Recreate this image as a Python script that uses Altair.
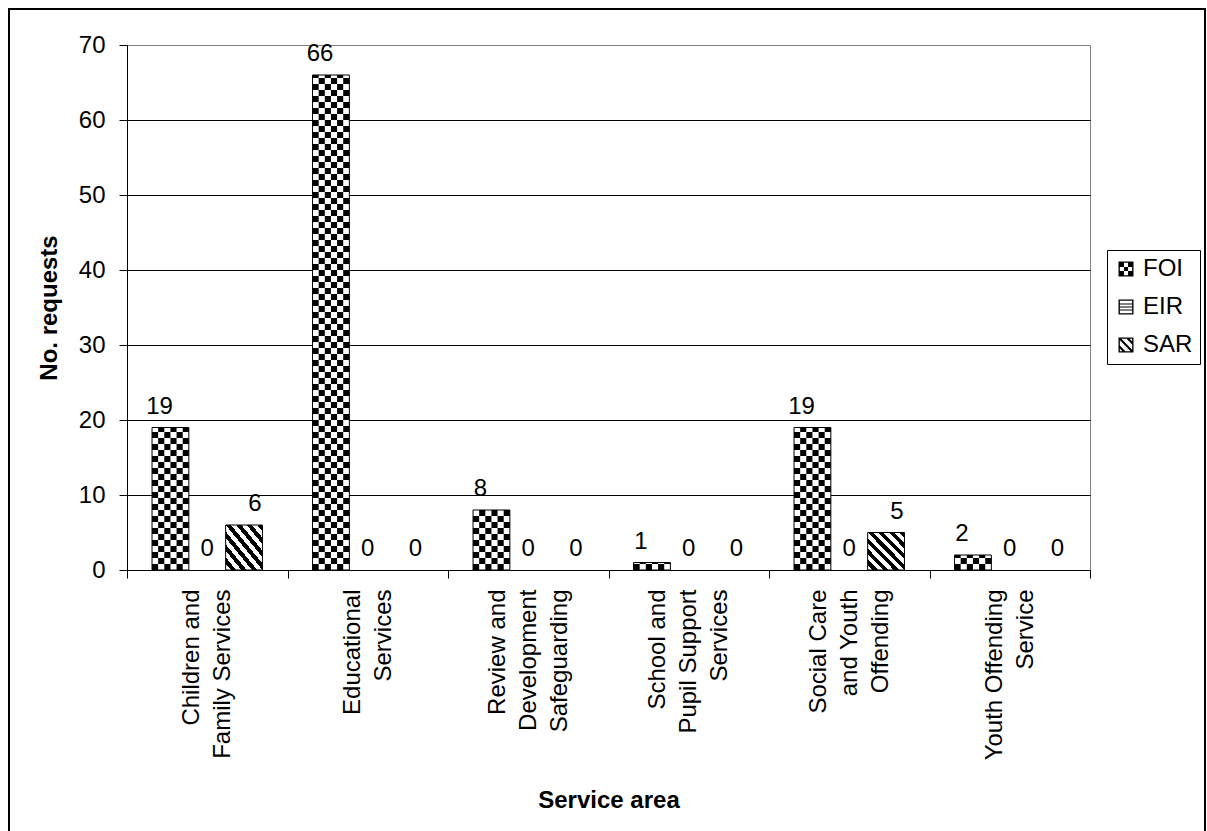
import math
import altair as alt
import pandas as pd

# ---------------- data ----------------
categories = [
    "Children and\nFamily Services",
    "Educational\nServices",
    "Review and\nDevelopment\nSafeguarding",
    "School and\nPupil Support\nServices",
    "Social Care\nand Youth\nOffending",
    "Youth Offending\nService",
]
series = ["FOI", "EIR", "SAR"]
foi_values = [19, 66, 8, 1, 19, 2]
eir_values = [0, 0, 0, 0, 0, 0]
sar_values = [6, 0, 0, 0, 5, 0]
y_tick_values = [0, 10, 20, 30, 40, 50, 60, 70]
y_title = "No. requests"
x_title = "Service area"

FONT = "Arial, Liberation Sans, sans-serif"

rows = []
for cat, f, e, s in zip(categories, foi_values, eir_values, sar_values):
    for ser, v in zip(series, (f, e, s)):
        rows.append({"category": cat, "series": ser, "value": v})
df = pd.DataFrame(rows)

# checkerboard cells for the FOI pattern, derived from the FOI values
CHECK_ROW = 0.8   # data units per checker row
CHECK_COLS = 6
cells = []
for cat, v in zip(categories, foi_values):
    k = 0
    while round(k * CHECK_ROW, 6) < v:
        lo = round(k * CHECK_ROW, 6)
        hi = min(round((k + 1) * CHECK_ROW, 6), v)
        for c in range(CHECK_COLS):
            if (k + c) % 2 == 0:
                cells.append({"category": cat, "sub": f"FOI{c}", "lo": lo, "hi": hi})
        k += 1
cells_df = pd.DataFrame(cells)

GAP = 0.68  # outer padding of the bar group (in bar widths)
sub_pad_total = GAP * CHECK_COLS
n_pad = int(math.floor(sub_pad_total))
sub_pad_rest = sub_pad_total - n_pad
sub_domain = ([f"padL{i}" for i in range(n_pad)]
              + [f"{s}{c}" for s in series for c in range(CHECK_COLS)]
              + [f"padR{i}" for i in range(n_pad)])

# diagonal stripe gradient for SAR
N_STRIPES = 7
stops = []
for i in range(N_STRIPES):
    a = i / N_STRIPES
    b = (i + 0.5) / N_STRIPES
    c = (i + 1) / N_STRIPES
    stops += [
        {"offset": a, "color": "white"},
        {"offset": b, "color": "white"},
        {"offset": b, "color": "black"},
        {"offset": c, "color": "black"},
    ]
sar_gradient = {"gradient": "linear", "x1": 0, "y1": 1, "x2": 1, "y2": 0, "stops": stops}

# ---------------- legend symbol paths ----------------
def sq(x0, y0, x1, y1, cw=True):
    if cw:
        return f"M{x0:.3f},{y0:.3f}H{x1:.3f}V{y1:.3f}H{x0:.3f}Z"
    return f"M{x0:.3f},{y0:.3f}V{y1:.3f}H{x1:.3f}V{y0:.3f}Z"

INNER = 0.82
frame_path = sq(-1, -1, 1, 1) + sq(-INNER, -INNER, INNER, INNER, cw=False)

foi_path = frame_path
step = 2 * INNER / 3
for r in range(3):
    for c in range(3):
        if (r + c) % 2 == 0:
            foi_path += sq(-INNER + c * step, -INNER + r * step,
                           -INNER + (c + 1) * step, -INNER + (r + 1) * step)

eir_path = frame_path
for yc in (-0.4, 0.0, 0.4):
    eir_path += sq(-INNER, yc - 0.08, INNER, yc + 0.08)


def clip_square(poly, lo, hi):
    def clip(p, inside, inter):
        out = []
        for i in range(len(p)):
            cur, prev = p[i], p[i - 1]
            if inside(cur):
                if not inside(prev):
                    out.append(inter(prev, cur))
                out.append(cur)
            elif inside(prev):
                out.append(inter(prev, cur))
        return out

    def ix(a, b, xv):
        t = (xv - a[0]) / (b[0] - a[0])
        return (xv, a[1] + t * (b[1] - a[1]))

    def iy(a, b, yv):
        t = (yv - a[1]) / (b[1] - a[1])
        return (a[0] + t * (b[0] - a[0]), yv)

    p = poly
    p = clip(p, lambda q: q[0] >= lo, lambda a, b: ix(a, b, lo))
    p = clip(p, lambda q: q[0] <= hi, lambda a, b: ix(a, b, hi))
    p = clip(p, lambda q: q[1] >= lo, lambda a, b: iy(a, b, lo))
    p = clip(p, lambda q: q[1] <= hi, lambda a, b: iy(a, b, hi))
    return p


def poly_path(p):
    area = sum(p[i][0] * p[(i + 1) % len(p)][1] - p[(i + 1) % len(p)][0] * p[i][1]
               for i in range(len(p)))
    if area < 0:
        p = p[::-1]
    return "M" + "L".join(f"{x:.3f},{y:.3f}" for x, y in p) + "Z"


sar_path = frame_path
for cc in (-1.1, 0.0, 1.1):
    c1, c2 = cc - 0.2, cc + 0.2
    band = [(c1 - 3, -3), (c1 + 3, 3), (c2 + 3, 3), (c2 - 3, -3)]
    clipped = clip_square(band, -INNER, INNER)
    if len(clipped) >= 3:
        sar_path += poly_path(clipped)

# ---------------- encodings ----------------
LINE_H = 31
x_enc = alt.X(
    "category:N",
    sort=categories,
    scale=alt.Scale(paddingInner=0, paddingOuter=0),
    axis=alt.Axis(
        title=x_title,
        labelExpr="split(datum.label, '\\n')",
        labelAngle=270,
        labelAlign="right",
        labelBaseline="middle",
        labelPadding=11,
        labelLineHeight=LINE_H,
        labelOffset={
            "condition": {"test": "length(split(datum.value, '\\n')) === 3", "value": -LINE_H},
            "value": -LINE_H / 2,
        },
        labelOverlap=False,
        labelLimit=0,
        tickBand="extent",
        tickSize=8,
        titleY=230,
        titleBaseline="middle",
    ),
)
y_scale = alt.Scale(domain=[0, 70], nice=False, zero=True)
y_axis = alt.Axis(
    title=y_title,
    values=y_tick_values,
    grid=True,
    gridColor={"condition": {"test": "datum.value === 70", "value": "#808080"}, "value": "black"},
    tickSize=8,
    labelPadding=14,
    titleX=-78,
    titleAngle=270,
    titleBaseline="middle",
)
y_enc = alt.Y("value:Q", scale=y_scale, axis=y_axis)
xoff_enc = alt.XOffset("series:N", sort=series,
                       scale=alt.Scale(domain=series, paddingInner=0, paddingOuter=GAP))

base = alt.Chart(df).encode(x=x_enc, xOffset=xoff_enc, y=y_enc)

foi_bg = base.transform_filter("datum.series === 'FOI'").mark_bar(
    fill="white", strokeWidth=0)

checker = alt.Chart(cells_df).mark_bar(fill="black", strokeWidth=0).encode(
    x=x_enc,
    xOffset=alt.XOffset("sub:N", sort=sub_domain,
                        scale=alt.Scale(domain=sub_domain, paddingInner=0,
                                        paddingOuter=sub_pad_rest)),
    y=alt.Y("lo:Q", scale=y_scale, axis=y_axis),
    y2="hi:Q",
)

foi_outline = base.transform_filter("datum.series === 'FOI'").mark_bar(
    fill="white", fillOpacity=0, stroke="black", strokeWidth=1)

sar_bars = base.transform_filter("datum.series === 'SAR' && datum.value > 0").mark_bar(
    fill=sar_gradient, stroke="black", strokeWidth=1)

labels = base.mark_text(
    baseline="alphabetic", dy=-14, fontSize=24, font=FONT, color="black"
).encode(text="value:Q")

legend_carrier = base.mark_point(
    opacity=0, filled=True, fill="black", strokeWidth=0
).encode(
    shape=alt.Shape(
        "series:N",
        sort=series,
        scale=alt.Scale(domain=series, range=[foi_path, eir_path, sar_path]),
        legend=alt.Legend(
            title=None,
            orient="none",
            legendX=980,
            legendY=205,
            strokeColor="black",
            fillColor="white",
            padding=7,
            labelFontSize=24,
            labelFont=FONT,
            labelColor="black",
            labelOffset=5,
            symbolSize=225,
            symbolStrokeWidth=0,
            symbolFillColor="black",
            symbolOpacity=1,
            rowPadding=14,
        ),
    )
)

frame = alt.Chart(pd.DataFrame({"k": [0]})).mark_rect(
    fill="white", fillOpacity=0, stroke="black", strokeWidth=2
).encode(x=alt.value(-118), x2=alt.value(1078), y=alt.value(-36), y2=alt.value(800))

chart = (
    alt.layer(foi_bg, checker, foi_outline, sar_bars, labels, legend_carrier, frame)
    .resolve_scale(xOffset="independent")
    .properties(
        width=963,
        height=525,
        autosize=alt.AutoSizeParams(type="none"),
        padding={"left": 127, "top": 45, "right": 117, "bottom": 261},
        background="white",
    )
    .configure_view(stroke="#808080", strokeWidth=1)
    .configure_axis(
        labelFont=FONT,
        titleFont=FONT,
        labelColor="black",
        titleColor="black",
        domainColor="black",
        tickColor="black",
        labelFontSize=24,
        titleFontSize=24,
        titleFontWeight="bold",
    )
)

chart.save("out.html", embed_options={"renderer": "svg", "actions": False})
